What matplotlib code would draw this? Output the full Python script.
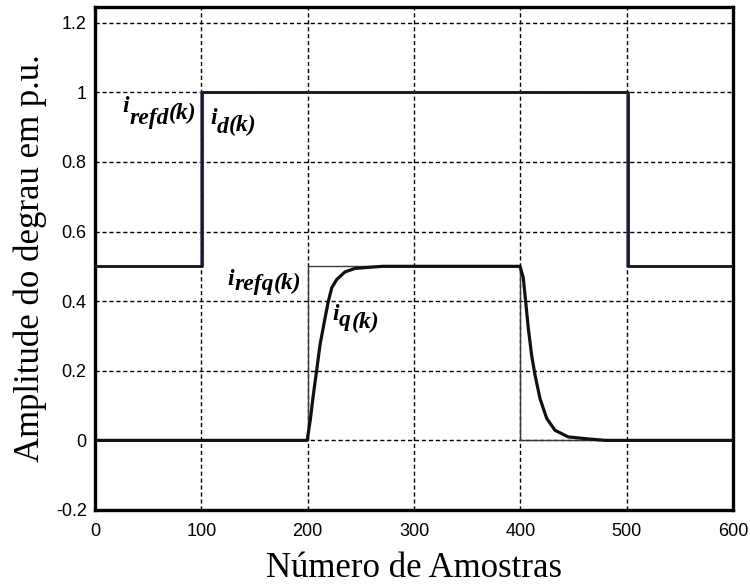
import matplotlib
matplotlib.use("Agg")
import matplotlib.pyplot as plt

# --- data -------------------------------------------------------------
# d-axis current reference and response (step breakpoints, sample index)
refd_k = [0, 100, 500, 600]
refd_v = [0.5, 1.0, 0.5, 0.5]
id_k = [0, 101, 501, 600]
id_v = [0.5, 1.0, 0.5, 0.5]

# q-axis current reference (step breakpoints)
refq_k = [0, 200, 400, 600]
refq_v = [0.0, 0.5, 0.0, 0.0]

# q-axis current response
iq_k = [0, 199.5, 202.2, 205.3, 208.5, 211.6, 216.3, 219.4, 222.6, 227.3, 235.1,
        244.5, 257, 270, 399.7, 402.8, 405, 407.5, 410.6, 413.8, 418.5, 424.8,
        432.6, 445, 460.8, 480, 600]
iq_v = [0, 0.0, 0.053, 0.13, 0.202, 0.274, 0.351, 0.399, 0.438, 0.462, 0.484,
        0.494, 0.497, 0.5, 0.5, 0.467, 0.399, 0.322, 0.245, 0.188, 0.12, 0.063,
        0.029, 0.01, 0.005, 0.0, 0.0]

x_ticks = [0, 100, 200, 300, 400, 500, 600]
y_ticks = [-0.2, 0, 0.2, 0.4, 0.6, 0.8, 1, 1.2]
y_tick_labels = ["-0.2", "0", "0.2", "0.4", "0.6", "0.8", "1", "1.2"]

# --- style ------------------------------------------------------------
plt.rcParams["axes.unicode_minus"] = False

fig = plt.figure(figsize=(7.5, 5.85), dpi=100)
ax = fig.add_axes([95 / 750, 1 - 510 / 585, 638 / 750, 503 / 585])

ax.plot(refd_k, refd_v, drawstyle="steps-post", color="#4a4a9a", lw=1.8, zorder=3)
ax.plot(id_k, id_v, drawstyle="steps-post", color="#1a1a1a", lw=2.0, zorder=4)
ax.plot(refq_k, refq_v, drawstyle="steps-post", color="#3a3a3a", lw=1.0, zorder=3)
ax.plot(iq_k, iq_v, color="#111111", lw=2.3, zorder=4,
        solid_joinstyle="round", solid_capstyle="round")

ax.set_xlim(0, 600)
ax.set_ylim(-0.2, 1.245)
ax.set_xticks(x_ticks)
ax.set_yticks(y_ticks)
ax.set_yticklabels(y_tick_labels)

ax.grid(True, color="black", linestyle=(0, (3, 2)), linewidth=1.0)
ax.set_axisbelow(True)
for s in ax.spines.values():
    s.set_linewidth(2.4)
    s.set_color("black")

ax.tick_params(axis="both", length=0, labelsize=13, colors="black")
ax.tick_params(axis="x", pad=9)
ax.tick_params(axis="y", pad=6)
for lab in ax.get_xticklabels() + ax.get_yticklabels():
    lab.set_fontfamily("Liberation Sans")

ax.set_xlabel("Número de Amostras", family="Liberation Serif", fontsize=25, labelpad=9)
ax.set_ylabel("Amplitude do degrau em p.u.", family="Liberation Serif", fontsize=25, labelpad=6)


# curve labels: "i" + lowered subscript + "(k)"
def curve_label(x, y, sub, sub_drop, k_rise, size=17):
    kw = dict(family="Liberation Serif", weight="bold", style="italic",
              fontsize=size, zorder=6)
    t_i = ax.text(x, y, "i", ha="left", va="baseline", **kw)
    t_sub = ax.annotate(sub, xy=(1, 0), xycoords=t_i, xytext=(0.4, -sub_drop),
                        textcoords="offset points", ha="left", va="bottom", **kw)
    ax.annotate("(k)", xy=(1, 0), xycoords=t_sub, xytext=(0.2, k_rise),
                textcoords="offset points", ha="left", va="bottom", **kw)


curve_label(25.4, 0.944, "refd", 8.5, 3.0)
curve_label(108.1, 0.909, "d", 6.5, 1.5)
curve_label(124.1, 0.447, "refq", 4.0, 1.0)
curve_label(222.9, 0.346, "q", 4.5, -1.0)

fig.savefig("out.png", dpi=100)
